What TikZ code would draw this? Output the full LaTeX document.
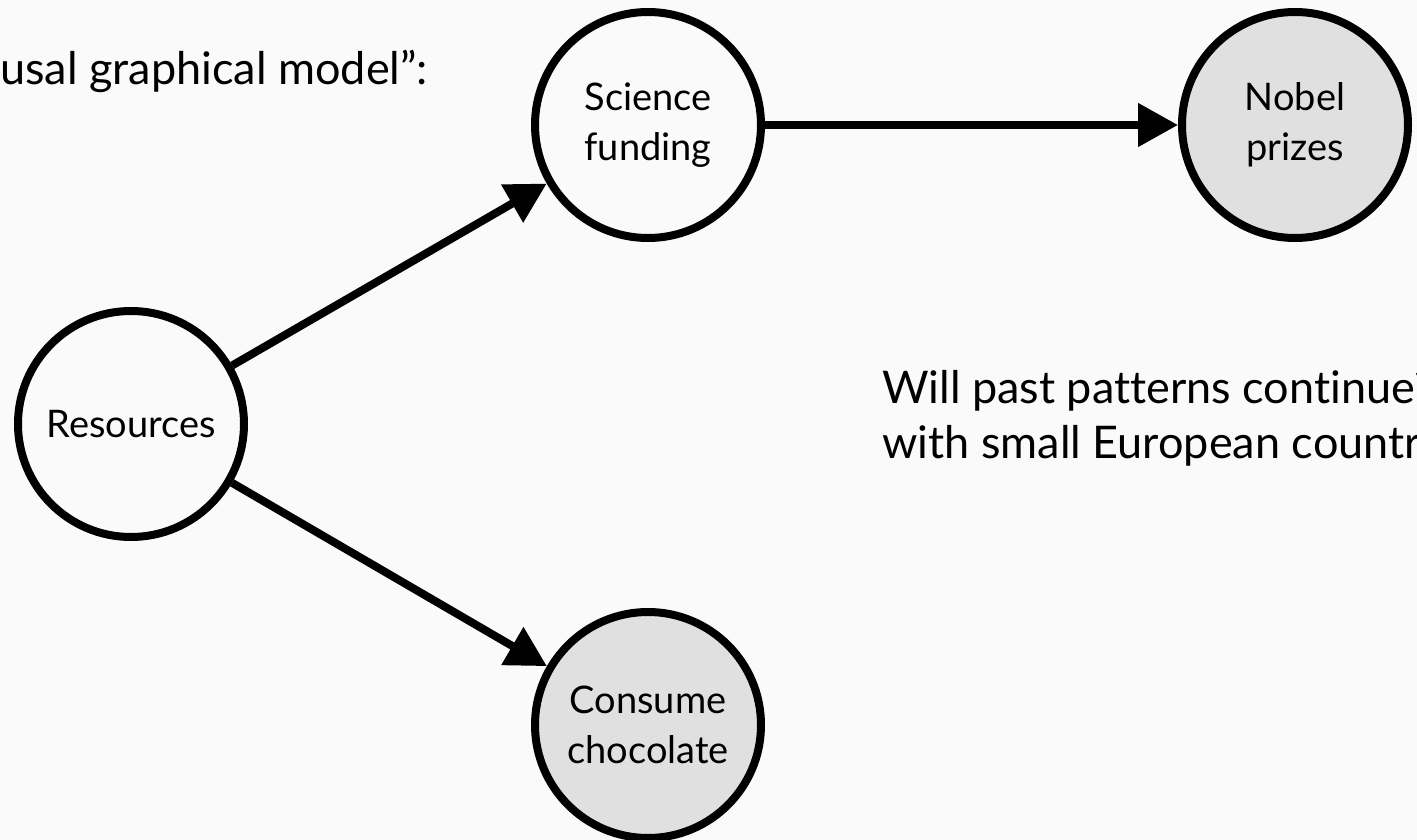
\documentclass[tikz,border=0pt]{standalone}
\usepackage{fontspec}
\setmainfont{Lato}[Ligatures={NoCommon}]
\usetikzlibrary{arrows.meta}
\definecolor{bg}{HTML}{FAFAFA}
\definecolor{shade}{HTML}{E0E0E0}
\begin{document}
\begin{tikzpicture}[x=1pt,y=-1pt,
  var/.style={circle,draw=black,line width=8pt,minimum size=226pt,inner sep=0pt,
    align=center,font=\fontsize{38}{50}\selectfont},
  open/.style={var,fill=bg},
  obs/.style={var,fill=shade},
  edge/.style={line width=8pt,-{Triangle[length=40pt,width=42pt]}},
  txt/.style={anchor=base west,inner sep=0pt,font=\fontsize{45}{57}\selectfont}]
\fill[bg] (0,0) rectangle (1417,840);
\useasboundingbox (0,0) rectangle (1417,840);
\clip (0,0) rectangle (1417,840);
\node[open] (res) at (131,424) {Resources};
\node[open] (sci) at (648,125) {Science\\funding};
\node[obs] (nob) at (1295,125) {Nobel\\prizes};
\node[obs] (cho) at (648,725) {Consume\\chocolate};
\draw[edge] (res) -- (sci);
\draw[edge] (res) -- (cho);
\draw[edge] (sci) -- (nob);
\node[txt] (t1) at (0,85) {usal graphical model”:};
\node[txt] (t2) at (882,403) {Will past patterns continue?};
\node[txt] (t3) at (882,458) {with small European countries?};
\end{tikzpicture}
\end{document}
